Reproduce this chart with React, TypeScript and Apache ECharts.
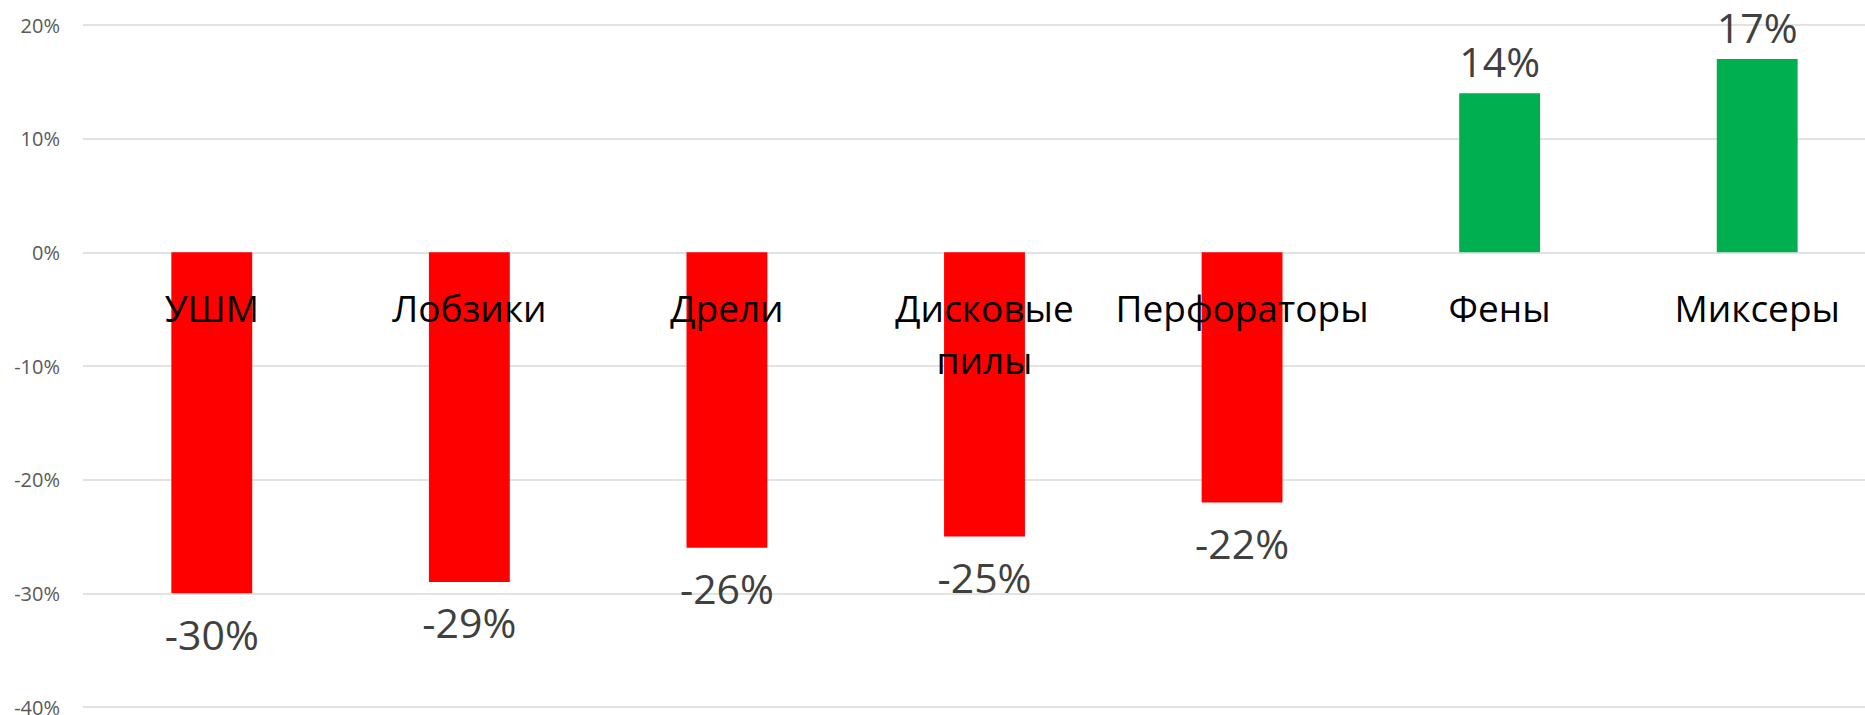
import React, { useEffect, useRef } from "react";
import * as echarts from "echarts";

const categories = ["УШМ", "Лобзики", "Дрели", "Дисковые пилы", "Перфораторы", "Фены", "Миксеры"];
const values = [-30, -29, -26, -25, -22, 14, 17];
const yTicks = { min: -40, max: 20, interval: 10 };
const negColor = "#FF0000";
const posColor = "#00B050";

export default function App() {
  const ref = useRef<HTMLDivElement>(null);
  useEffect(() => {
    if (!ref.current) return;
    const chart = echarts.init(ref.current, null, { renderer: "svg" });
    const font = "'Open Sans', 'Noto Sans', sans-serif";
    chart.setOption({
      animation: false,
      backgroundColor: "#ffffff",
      grid: { left: 83, right: 0, top: 25, bottom: 8, containLabel: false, outerBoundsMode: "none" },
      xAxis: {
        type: "category",
        data: categories,
        axisLine: { show: false, onZero: false },
        axisTick: { show: false },
        axisLabel: {
          interval: 0,
          margin: -426,
          color: "#000000",
          fontSize: 37,
          lineHeight: 52,
          fontFamily: font,
          formatter: (v: string) => v.replace(" ", "\n"),
        },
        z: 10,
      },
      yAxis: {
        type: "value",
        min: yTicks.min,
        max: yTicks.max,
        interval: yTicks.interval,
        axisLine: { show: false },
        axisTick: { show: false },
        splitLine: { lineStyle: { color: "#d9d9d9", width: 1.5 } },
        axisLabel: {
          margin: 23,
          color: "#595959",
          fontSize: 20,
          fontFamily: font,
          formatter: (v: number) => v + "%",
        },
      },
      series: [
        {
          type: "bar",
          barWidth: "31.4%",
          z: 2,
          data: values.map((v) => ({
            value: v,
            itemStyle: { color: v < 0 ? negColor : posColor },
            label: {
              show: true,
              position: v < 0 ? "bottom" : "top",
              distance: v < 0 ? 20 : 12,
            },
          })),
          label: {
            show: true,
            color: "#404040",
            fontSize: 41,
            fontFamily: font,
            formatter: (p: any) => p.value + "%",
          },
        },
      ],
    });
    return () => chart.dispose();
  }, []);
  return (
    <div style={{ position: "fixed", left: 0, top: 0, width: 1865, height: 715, overflow: "hidden", background: "#fff" }}>
      <div ref={ref} style={{ width: 1886, height: 715 }} />
    </div>
  );
}
